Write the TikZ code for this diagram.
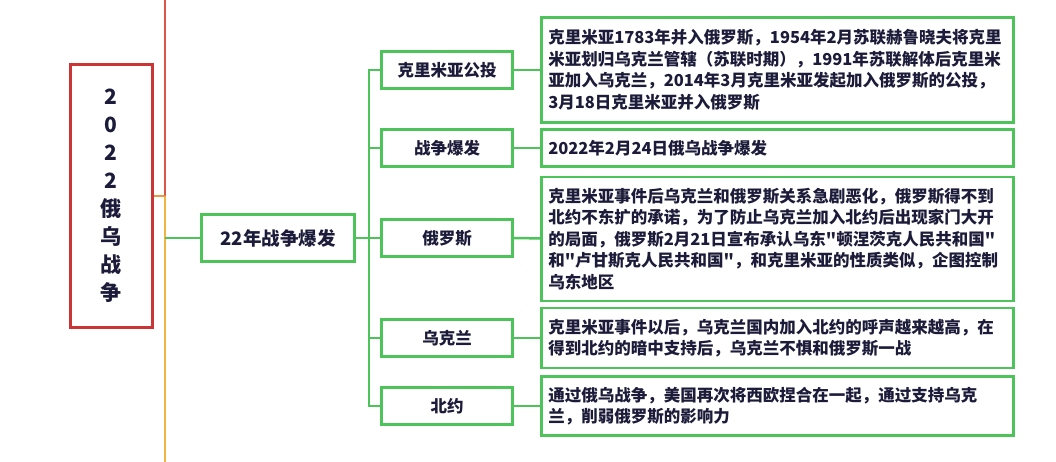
\documentclass[tikz,border=0pt]{standalone}
\usepackage{fontspec}
\newfontfamily\cjk{Noto Sans CJK SC}
\usepackage{xcolor}
\usetikzlibrary{positioning}

\definecolor{rootred}{HTML}{CC3535}
\definecolor{linered}{HTML}{D9574A}
\definecolor{lineyel}{HTML}{EFB540}
\definecolor{linegrn}{HTML}{4CC45A}
\definecolor{inkblue}{HTML}{1C1C3A}

\begin{document}
\begin{tikzpicture}[
  x=1pt, y=-1pt,
  every node/.style={font=\cjk\bfseries, text=inkblue, inner sep=0pt},
  root/.style={draw=rootred, line width=3pt, minimum width=82pt,
    minimum height=262pt, font=\cjk\bfseries\fontsize{21}{28}\selectfont,
    align=center},
  topic/.style={draw=linegrn, line width=2.5pt, minimum width=153pt,
    minimum height=47pt, font=\cjk\bfseries\fontsize{18.5}{22}\selectfont},
  branch/.style={draw=linegrn, line width=2.5pt, minimum width=131pt,
    minimum height=37pt, font=\cjk\bfseries\fontsize{16.5}{20}\selectfont},
  detail/.style={draw=linegrn, line width=2.5pt, anchor=west,
    text width=458pt, inner xsep=7pt, align=left,
    font=\cjk\bfseries\fontsize{16.5}{21.6}\selectfont},
  link/.style={draw=linegrn, line width=2.5pt},
  spine/.style={line width=2.5pt}
]
  \useasboundingbox[fill=white] (0,0) rectangle (1056,462);

  % root and trunk
  \node[root] (war) at (111,196) {2\\0\\2\\2\\俄\\乌\\战\\争};
  \coordinate (top) at (165,0);
  \coordinate (fork) at (165,196);
  \coordinate (bottom) at (165,462);
  \coordinate (tap) at (165,238);
  \draw[spine, draw=linered] (top) -- (fork);
  \draw[spine, draw=lineyel] (fork) -- (bottom);
  \draw[spine, draw=lineyel!70!linered] (war.east) -- (fork);

  % topic
  \node[topic] (outbreak) at (278,238) {22年战争爆发};
  \draw[link] (tap) -- (outbreak.west);

  % branches
  \node[branch] (crimea) at (447,70) {克里米亚公投};
  \node[branch] (start) at (447,148) {战争爆发};
  \node[branch] (russia) at (447,238) {俄罗斯};
  \node[branch] (ukraine) at (447,338) {乌克兰};
  \node[branch] (nato) at (447,406) {北约};

  \draw[link] (outbreak.east) -- ++(13,0) |- (crimea.west);
  \draw[link] (outbreak.east) -- ++(13,0) |- (start.west);
  \draw[link] (outbreak.east) -- (russia.west);
  \draw[link] (outbreak.east) -- ++(13,0) |- (ukraine.west);
  \draw[link] (outbreak.east) -- ++(13,0) |- (nato.west);

  % details
  \node[detail, minimum height=105pt] (crimea-d) at (540,70)
    {克里米亚1783年并入俄罗斯，1954年2月苏联赫鲁晓夫将克里\\
     米亚划归乌克兰管辖（苏联时期），1991年苏联解体后克里米\\
     亚加入乌克兰，2014年3月克里米亚发起加入俄罗斯的公投，\\
     3月18日克里米亚并入俄罗斯};
  \node[detail, minimum height=37pt] (start-d) at (540,148)
    {2022年2月24日俄乌战争爆发};
  \node[detail, minimum height=124pt] (russia-d) at (540,239)
    {克里米亚事件后乌克兰和俄罗斯关系急剧恶化，俄罗斯得不到\\
     北约不东扩的承诺，为了防止乌克兰加入北约后出现家门大开\\
     的局面，俄罗斯2月21日宣布承认乌东"顿涅茨克人民共和国"\\
     和"卢甘斯克人民共和国"，和克里米亚的性质类似，企图控制\\
     乌东地区};
  \node[detail, minimum height=60pt] (ukraine-d) at (540,338)
    {克里米亚事件以后，乌克兰国内加入北约的呼声越来越高，在\\
     得到北约的暗中支持后，乌克兰不惧和俄罗斯一战};
  \node[detail, minimum height=59pt] (nato-d) at (540,406)
    {通过俄乌战争，美国再次将西欧捏合在一起，通过支持乌克\\
     兰，削弱俄罗斯的影响力};

  \draw[link] (crimea) -- (crimea-d);
  \draw[link] (start) -- (start-d);
  \draw[link] (russia) -- (russia-d);
  \draw[link] (ukraine) -- (ukraine-d);
  \draw[link] (nato) -- (nato-d);
\end{tikzpicture}
\end{document}
